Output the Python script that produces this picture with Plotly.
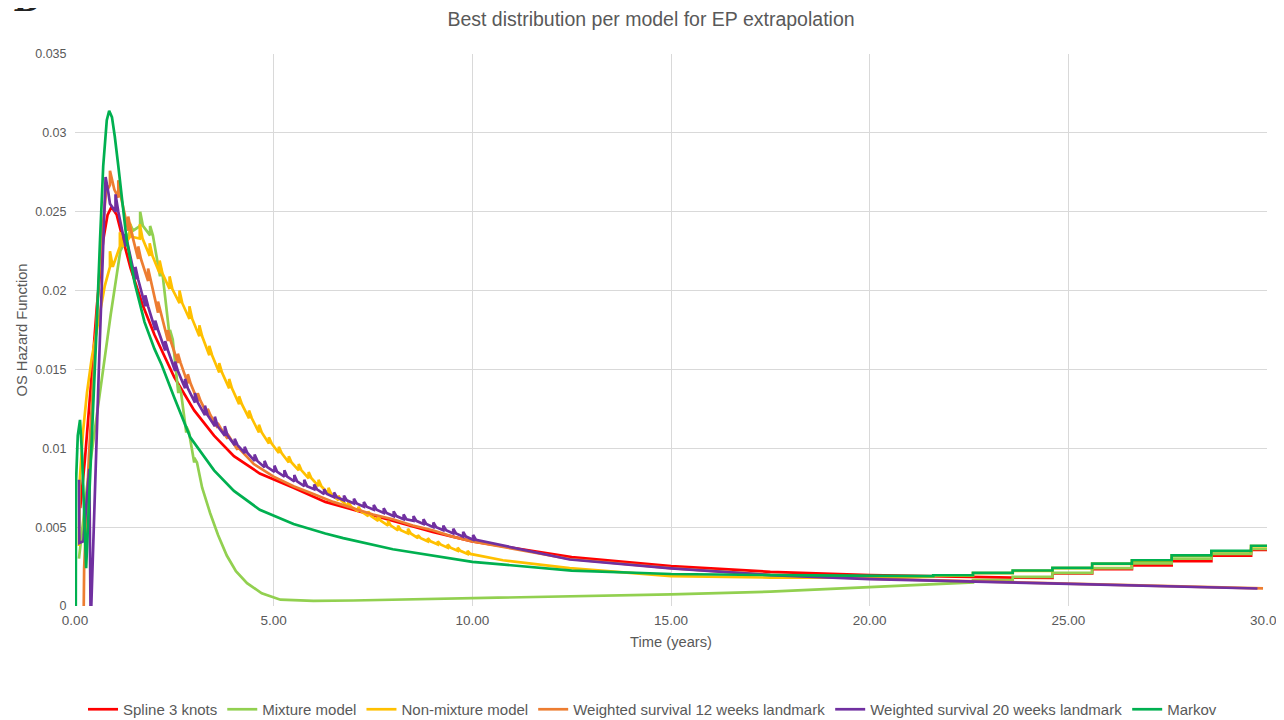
import plotly.graph_objects as go

# ---------------- data ----------------
# Spline 3 knots (red)
t_spline = [0.13, 0.25, 0.40, 0.55, 0.71, 0.82, 0.92, 1.05, 1.17, 1.40, 1.70, 2.00, 2.50, 3.00, 3.50,
            4.00, 4.65, 5.50, 6.30, 7.15, 8.00, 9.00, 10.0, 11.0, 12.5, 15.0, 17.5, 20.0, 21.6, 22.6,
            23.6, 24.6, 24.6, 25.6, 25.6, 26.6, 26.6, 27.6, 27.6, 28.6, 28.6, 29.6, 29.6, 30.0]
v_spline = [0.0062, 0.0093, 0.0140, 0.0190, 0.0232, 0.0248, 0.0253, 0.0248, 0.0236, 0.0214, 0.0191,
            0.0172, 0.0145, 0.0124, 0.0108, 0.0095, 0.0084, 0.0075, 0.0066, 0.0060, 0.0054, 0.0047,
            0.0041, 0.0037, 0.0031, 0.00253, 0.00217, 0.00196, 0.00188, 0.00183, 0.00180, 0.00178,
            0.00206, 0.00206, 0.00233, 0.00233, 0.00258, 0.00258, 0.00284, 0.00284, 0.00320, 0.00320,
            0.00355, 0.00355]

# Mixture model (light green)
t_mix = [0.10, 0.30, 0.50, 0.71, 0.90, 1.14, 1.39, 1.64, 1.89, 2.14, 2.39, 2.60, 2.80, 3.00, 3.20,
         3.40, 3.60, 3.82, 4.05, 4.33, 4.70, 5.17, 6.0, 7.0, 8.0, 10.0, 12.45, 15.0, 17.5, 20.0,
         22.0, 22.6, 22.6, 23.6, 23.6, 24.6, 24.6, 25.6, 25.6, 26.6, 26.6, 27.6, 27.6, 28.6, 28.6,
         29.6, 29.6, 30.0]
v_mix = [0.0030, 0.0075, 0.0112, 0.0150, 0.0185, 0.0225, 0.0238, 0.0241, 0.0235, 0.0209, 0.0169,
         0.0135, 0.0110, 0.0091, 0.0075, 0.0059, 0.0045, 0.0032, 0.0022, 0.00145, 0.0008, 0.0004,
         0.00033, 0.00035, 0.0004, 0.00049, 0.00059, 0.00074, 0.00091, 0.00122, 0.00143, 0.00150,
         0.00165, 0.00165, 0.00185, 0.00185, 0.00210, 0.00210, 0.00240, 0.00240, 0.00270, 0.00270,
         0.00300, 0.00300, 0.00330, 0.00330, 0.00362, 0.00362]
h_mix = [0, 0, 0, 0, 0, 0, 0.0004, 0.0009, 0.0006, 0.0007, 0.0006, 0.0005, 0.0004, 0.0003, 0,
         0, 0, 0, 0, 0, 0, 0, 0, 0, 0, 0, 0, 0, 0, 0,
         0, 0, 0, 0, 0, 0, 0, 0, 0, 0, 0, 0, 0, 0, 0, 0, 0, 0]

# Non-mixture model (yellow)
t_nonmix = [0.10, 0.12, 0.20, 0.30, 0.42, 0.50, 0.63, 0.75, 0.88, 1.13, 1.38, 1.63, 1.88, 2.13, 2.38,
            2.63, 2.88, 3.13, 3.38, 3.63, 3.88, 4.13, 4.38, 4.63, 4.88, 5.13, 5.38, 5.63, 5.88, 6.13,
            6.38, 6.63, 6.88, 7.13, 7.38, 7.63, 7.88, 8.13, 8.38, 8.63, 8.88, 9.13, 9.38, 9.63, 9.88,
            10.77, 12.45, 15.0, 17.5, 20.0, 21.6, 21.6, 22.6, 22.6, 23.6, 23.6, 24.6, 24.6, 25.6, 25.6,
            26.6, 26.6, 27.6, 27.6, 28.6, 28.6, 29.6, 29.6, 30.0]
v_nonmix = [0.0038, 0.0080, 0.0110, 0.0135, 0.0157, 0.0168, 0.0188, 0.0203, 0.0215, 0.0228, 0.0234,
            0.0233, 0.0222, 0.0211, 0.0201, 0.0192, 0.0182, 0.0171, 0.0159, 0.0148, 0.0138, 0.0128,
            0.0119, 0.0110, 0.0103, 0.0097, 0.0091, 0.0086, 0.0081, 0.0076, 0.0071, 0.0067, 0.0063,
            0.0060, 0.0057, 0.0054, 0.0051, 0.0048, 0.0046, 0.0043, 0.0041, 0.0039, 0.0037, 0.0035,
            0.0033, 0.0029, 0.0024, 0.0019, 0.0018, 0.0018, 0.00187, 0.00193, 0.00193, 0.00208,
            0.00208, 0.00223, 0.00223, 0.00240, 0.00240, 0.00267, 0.00267, 0.00288, 0.00288, 0.00319,
            0.00319, 0.00347, 0.00347, 0.00380, 0.00380]
h_nonmix = [0, 0, 0, 0, 0, 0, 0, 0, 0.0010, 0.0009, 0.0009, 0.0009, 0.0008, 0.0008, 0.0008,
            0.0008, 0.0008, 0.0007, 0.0006, 0.0006, 0.0006, 0.0005, 0.0005, 0.0005, 0.0004, 0.0004,
            0.0004, 0.0004, 0.0004, 0.0004, 0.0004, 0.0003, 0.0003, 0.0003, 0.0003, 0.0003, 0.0003,
            0.0003, 0.0003, 0.0002, 0.0002, 0.0002, 0.0002, 0.0002, 0.0002,
            0, 0, 0, 0, 0, 0, 0, 0, 0, 0, 0, 0, 0, 0, 0, 0, 0, 0, 0, 0, 0, 0, 0, 0]

# Weighted survival 12 weeks landmark (orange)
t_w12 = [0.22, 0.23, 0.35, 0.50, 0.65, 0.78, 0.88, 0.99, 1.09, 1.34, 1.59, 1.84, 2.09, 2.34, 2.59,
         2.84, 3.09, 3.34, 3.59, 3.84, 4.09, 4.50, 5.00, 5.50, 6.00, 6.50, 7.00, 7.50, 8.00, 8.50,
         9.00, 9.50, 10.0, 12.45, 15.0, 17.5, 20.0, 24.5, 29.9]
v_w12 = [0.0000, 0.0024, 0.0095, 0.0165, 0.0228, 0.0262, 0.0267, 0.0264, 0.0259, 0.0238, 0.0220,
         0.0206, 0.0186, 0.0168, 0.0154, 0.0141, 0.0130, 0.0121, 0.0113, 0.0106, 0.0099, 0.0090,
         0.0082, 0.0076, 0.0071, 0.0066, 0.0062, 0.0058, 0.0055, 0.0051, 0.0048, 0.0044, 0.0041,
         0.00298, 0.0024, 0.00198, 0.00173, 0.00145, 0.00112]
h_w12 = [0, 0, 0, 0, 0, 0, 0.0009, 0, 0.0011, 0.0009, 0.0008, 0.0008, 0.0007, 0.0007, 0.0006,
         0.0006, 0.0005, 0.0004, 0.0003, 0.0003, 0.0002, 0, 0, 0, 0, 0, 0, 0, 0, 0,
         0, 0, 0, 0, 0, 0, 0, 0, 0]

# Weighted survival 20 weeks landmark (purple)
t_w20 = [0.10, 0.11, 0.21, 0.36, 0.39, 0.41, 0.60, 0.77, 0.88, 1.02, 1.27, 1.52, 1.77, 2.02, 2.27,
         2.52, 2.77, 3.02, 3.27, 3.52, 3.77, 4.02, 4.27, 4.52, 4.77, 5.02, 5.27, 5.52, 5.77, 6.02,
         6.27, 6.52, 6.77, 7.02, 7.27, 7.52, 7.77, 8.02, 8.27, 8.52, 8.77, 9.02, 9.27, 9.52, 9.77,
         10.02, 12.45, 15.0, 17.5, 20.0, 24.5, 29.76]
v_w20 = [0.0080, 0.0040, 0.0041, 0.0087, 0.0000, 0.0000, 0.0150, 0.0262, 0.0255, 0.0250, 0.0228,
         0.0207, 0.0190, 0.0175, 0.0162, 0.0149, 0.0138, 0.0129, 0.0121, 0.0114, 0.0108, 0.0102,
         0.0097, 0.0092, 0.0088, 0.0085, 0.0082, 0.0079, 0.0076, 0.0074, 0.0071, 0.0069, 0.0067,
         0.0065, 0.0063, 0.0061, 0.0059, 0.0057, 0.0055, 0.0054, 0.0052, 0.0050, 0.0048, 0.0046,
         0.0044, 0.0042, 0.00295, 0.00238, 0.00196, 0.00171, 0.00143, 0.00111]
h_w20 = [0, 0, 0, 0, 0, 0, 0, 0.0010, 0, 0.0011, 0.0008, 0.0008, 0.0007, 0.0006, 0.0006,
         0.0006, 0.0006, 0.0006, 0.0006, 0.0006, 0.0006, 0.0004, 0.0004, 0.0004, 0.0004, 0.0004,
         0.0004, 0.0004, 0.0004, 0.0003, 0.0003, 0.0003, 0.0003, 0.0003, 0.0003, 0.0003, 0.0003,
         0.0003, 0.0003, 0.0003, 0.0003, 0.0003, 0.0003, 0.0003, 0.0003, 0.0003, 0, 0, 0, 0, 0, 0]

# Markov (green)
t_markov = [0.00, 0.02, 0.025, 0.07, 0.126, 0.18, 0.28, 0.40, 0.55, 0.63, 0.71, 0.80, 0.86, 0.93, 1.00,
            1.09, 1.30, 1.50, 1.75, 2.00, 2.18, 2.50, 2.90, 3.50, 4.00, 4.65, 5.50, 6.30, 6.75, 8.00,
            10.0, 12.5, 15.0, 17.5, 20.0, 21.6, 21.6, 22.6, 22.6, 23.6, 23.6, 24.6, 24.6, 25.6, 25.6,
            26.6, 26.6, 27.6, 27.6, 28.6, 28.6, 29.6, 29.6, 30.0]
v_markov = [0.0, 0.0, 0.0078, 0.0108, 0.0118, 0.0095, 0.0024, 0.0090, 0.0180, 0.0232, 0.0279, 0.0308,
            0.0314, 0.0310, 0.0298, 0.0279, 0.0232, 0.0205, 0.0180, 0.0163, 0.0153, 0.0132, 0.0107,
            0.0086, 0.0073, 0.0061, 0.0052, 0.0046, 0.0043, 0.0036, 0.0028, 0.00224, 0.00203,
            0.00196, 0.00191, 0.00189, 0.00195, 0.00195, 0.00210, 0.00210, 0.00225, 0.00225, 0.00242,
            0.00242, 0.00269, 0.00269, 0.00290, 0.00290, 0.00321, 0.00321, 0.00349, 0.00349, 0.00382,
            0.00382]

series_names = ["Spline 3 knots", "Mixture model", "Non-mixture model",
                "Weighted survival 12 weeks landmark", "Weighted survival 20 weeks landmark", "Markov"]
series_colors = ["#FF0000", "#92D050", "#FFC000", "#ED7D31", "#7030A0", "#00B050"]

x_ticks = [0, 5, 10, 15, 20, 25, 30]
y_ticks = [0, 0.005, 0.01, 0.015, 0.02, 0.025, 0.03, 0.035]

SPIKE_WIDTH = 0.07  # years, visual width of each periodic spike


def with_spikes(ts, vs, hs=None):
    """Insert the periodic spikes (read heights) on top of the read base curve."""
    if hs is None:
        return list(ts), list(vs)
    xs, ys = [], []
    for t, v, h in zip(ts, vs, hs):
        xs.append(t)
        ys.append(v)
        if h:
            xs += [t, t + SPIKE_WIDTH]
            ys += [v + h, v]
    return xs, ys


data = [
    (t_spline, v_spline, None),
    (t_mix, v_mix, h_mix),
    (t_nonmix, v_nonmix, h_nonmix),
    (t_w12, v_w12, h_w12),
    (t_w20, v_w20, h_w20),
    (t_markov, v_markov, None),
]

fig = go.Figure()
for (ts, vs, hs), name, col in zip(data, series_names, series_colors):
    xs, ys = with_spikes(ts, vs, hs)
    fig.add_trace(go.Scatter(x=xs, y=ys, mode="lines", name=name,
                             line=dict(color=col, width=2.7)))

grey = "#595959"
FIG_W, FIG_H = 1284, 740
# The page places the figure 8 px from the top-left corner, so figure coordinates
# are chosen as (reference pixel - 8); the figure is a bit taller than the window
# so that the legend never forces the plot area to shrink.
fig.update_layout(
    width=FIG_W, height=FIG_H,
    paper_bgcolor="white", plot_bgcolor="white",
    margin=dict(l=67, r=25, t=46, b=FIG_H - 598, pad=0),
    font=dict(family="Liberation Sans, Arial, sans-serif", color=grey, size=12.5),
    title=dict(text="Best distribution per model for EP extrapolation",
               x=643 / FIG_W, xanchor="center", xref="container",
               y=1 - 11 / FIG_H, yanchor="middle", yref="container",
               font=dict(size=19.5, color=grey), automargin=False),
    showlegend=True,
    legend=dict(orientation="h", x=0.4845, xanchor="center", y=-0.1875, yanchor="middle",
                font=dict(size=15, color=grey), traceorder="normal",
                itemwidth=30, bgcolor="rgba(0,0,0,0)"),
)
fig.update_xaxes(range=[0, 30], tickvals=x_ticks, tickformat=".2f", automargin=False,
                 showgrid=True, gridcolor="#D9D9D9", gridwidth=1, zeroline=False,
                 showline=False, ticks="outside", ticklen=2, tickcolor="rgba(0,0,0,0)",
                 tickfont=dict(size=13.5, color=grey),
                 title=dict(text="Time (years)", font=dict(size=14.7, color=grey), standoff=9))
fig.update_yaxes(range=[0, 0.035], tickvals=y_ticks, tickformat="", automargin=False,
                 showgrid=True, gridcolor="#D9D9D9", gridwidth=1, zeroline=False,
                 showline=False, ticks="outside", ticklen=5, tickcolor="rgba(0,0,0,0)",
                 tickfont=dict(size=12.5, color=grey),
                 title=dict(text="OS Hazard Function", font=dict(size=14.7, color=grey), standoff=4))

fig.add_annotation(text="<b><i>B</i></b>", xref="paper", yref="paper", x=-0.04, y=1.062,
                   xanchor="center", yanchor="bottom", showarrow=False,
                   font=dict(family="DejaVu Serif, serif", size=30, color="#222222"))

fig.write_html("out.html")
